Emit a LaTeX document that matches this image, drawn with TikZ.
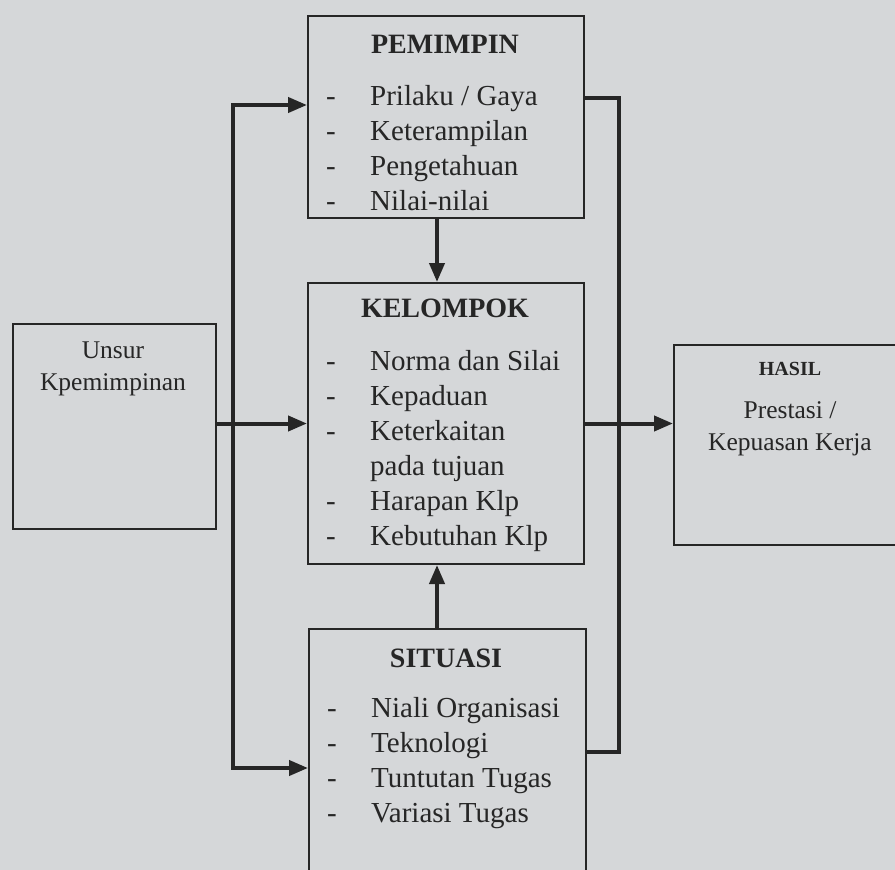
\documentclass[tikz,border=0pt]{standalone}
\usepackage{fontspec}
\setmainfont{Liberation Serif}
\usetikzlibrary{arrows.meta}

\definecolor{pagegray}{HTML}{D5D7D9}
\definecolor{inkdark}{HTML}{262626}

\begin{document}
\begin{tikzpicture}[
  x=1pt,
  y=-1pt,
  line join=miter,
  box/.style={draw=inkdark,line width=2pt,inner sep=0pt,anchor=north west},
  conn/.style={draw=inkdark,line width=4pt},
  arrowconn/.style={conn,-{Triangle[length=19pt,width=15pt]}},
  boxtitle/.style={anchor=base,text=inkdark,inner sep=0pt,font=\fontsize{28}{34}\selectfont\bfseries},
  itemtext/.style={anchor=base west,text=inkdark,inner sep=0pt,font=\fontsize{29}{35}\selectfont},
  sidetext/.style={anchor=base,text=inkdark,inner sep=0pt,font=\fontsize{25.5}{32}\selectfont}
]
  % Match the photographed page frame.
  \useasboundingbox (0,0) rectangle (895,870);
  \fill[pagegray] (0,0) rectangle (895,870);
  \clip (0,0) rectangle (895,870);

  % Boxes; SITUASI and HASIL run past the page edge.
  \node[box,minimum width=276pt,minimum height=202pt] (pemimpin) at (307,15) {};
  \node[box,minimum width=276pt,minimum height=281pt] (kelompok) at (307,282) {};
  \node[box,minimum width=277pt,minimum height=260pt] (situasi) at (308,628) {};
  \node[box,minimum width=203pt,minimum height=205pt] (unsur) at (12,323) {};
  \node[box,minimum width=240pt,minimum height=200pt] (hasil) at (673,344) {};

  % Titles.
  \node[boxtitle] (pemimpin-title) at (445,53) {PEMIMPIN};
  \node[boxtitle] (kelompok-title) at (445,317) {KELOMPOK};
  \node[boxtitle] (situasi-title) at (446,667) {SITUASI};

  % Item lists, one line every 35 units.
  \foreach \n/\txt in {1/{Prilaku / Gaya},2/Keterampilan,3/Pengetahuan,4/Nilai-nilai} {
    \pgfmathsetmacro\yy{105+35*(\n-1)}
    \node[itemtext] (pemimpin-dash-\n) at (326,\yy) {-};
    \node[itemtext] (pemimpin-item-\n) at (370,\yy) {\txt};
  }
  \foreach \n/\txt in {1/Norma dan Silai,2/Kepaduan,3/Keterkaitan,5/Harapan Klp,6/Kebutuhan Klp} {
    \pgfmathsetmacro\yy{370+35*(\n-1)}
    \node[itemtext] (kelompok-dash-\n) at (326,\yy) {-};
    \node[itemtext] (kelompok-item-\n) at (370,\yy) {\txt};
  }
  \node[itemtext] (kelompok-item-4) at (370,475) {pada tujuan};
  \foreach \n/\txt in {1/Niali Organisasi,2/Teknologi,3/Tuntutan Tugas,4/Variasi Tugas} {
    \pgfmathsetmacro\yy{717+35*(\n-1)}
    \node[itemtext] (situasi-dash-\n) at (327,\yy) {-};
    \node[itemtext] (situasi-item-\n) at (371,\yy) {\txt};
  }

  % Side boxes.
  \node[sidetext] (unsur-line1) at (113,358) {Unsur};
  \node[sidetext] (unsur-line2) at (113,390) {Kpemimpinan};
  \node[boxtitle,font=\fontsize{20}{24}\selectfont\bfseries] (hasil-title) at (790,375) {HASIL};
  \node[sidetext] (hasil-line1) at (790,418) {Prestasi /};
  \node[sidetext] (hasil-line2) at (790,450) {Kepuasan Kerja};

  % Trunk lines.
  \coordinate (ltop) at (233,105);
  \coordinate (lbot) at (233,768);
  \coordinate (rtop) at (619,98);
  \coordinate (rbot) at (619,752);
  \coordinate (vmid) at (437,0);

  \draw[conn,{Triangle[length=19pt,width=15pt]}-{Triangle[length=19pt,width=15pt]}]
    (ltop -| pemimpin.west) -- (ltop) -- (lbot) -- (lbot -| situasi.west);
  \draw[arrowconn] (unsur.east |- kelompok.west) -- (kelompok.west);
  \draw[conn] (pemimpin.east |- rtop) -- (rtop) -- (rbot) -- (situasi.east |- rbot);
  \draw[arrowconn] (kelompok.east) -- (kelompok.east -| hasil.west);

  % Vertical links into KELOMPOK.
  \draw[arrowconn] (pemimpin.south -| vmid) -- (kelompok.north -| vmid);
  \draw[arrowconn] (situasi.north -| vmid) -- (kelompok.south -| vmid);
\end{tikzpicture}
\end{document}
